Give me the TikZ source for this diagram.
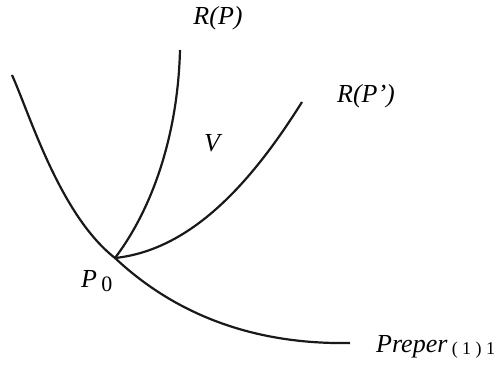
\documentclass[tikz,border=0pt]{standalone}
\usepackage{fontspec}
\setmainfont{Liberation Serif}
\begin{document}
\begin{tikzpicture}[x=1pt,y=-1pt,
  curve/.style={line width=2.2pt,color=black!90},
  lab/.style={font=\fontsize{26}{28}\selectfont\itshape,inner sep=0pt}]
\useasboundingbox (0,0) rectangle (504,369);
\coordinate (P0) at (115,258);
\coordinate (S) at (12,75);
\coordinate (E) at (350,343);
\coordinate (RPtop) at (180,50);
\coordinate (RPPtop) at (302,102);
\draw[curve] (S) .. controls (30,115) and (60,215) .. (P0)
  .. controls (165,305) and (240,345) .. (E);
\draw[curve] (P0) .. controls (155,205) and (178,130) .. (RPtop);
\draw[curve] (P0) .. controls (190,250) and (250,185) .. (RPPtop);
\node[lab] (lRP) at (218,18) {R(P)};
\node[lab] (lRPP) at (366,96) {R(P’)};
\node[lab] (lV) at (212,143) {V};
\node[lab,anchor=base west] (lP0) at (81,287) {P\,\raisebox{-0.4ex}{\upshape\fontsize{22}{24}\selectfont 0}};
\node[lab,anchor=base west] (lPre) at (376,352) {Preper\,\raisebox{-0.25ex}{\upshape\fontsize{18}{20}\selectfont ( 1 ) 1}};
\end{tikzpicture}
\end{document}
